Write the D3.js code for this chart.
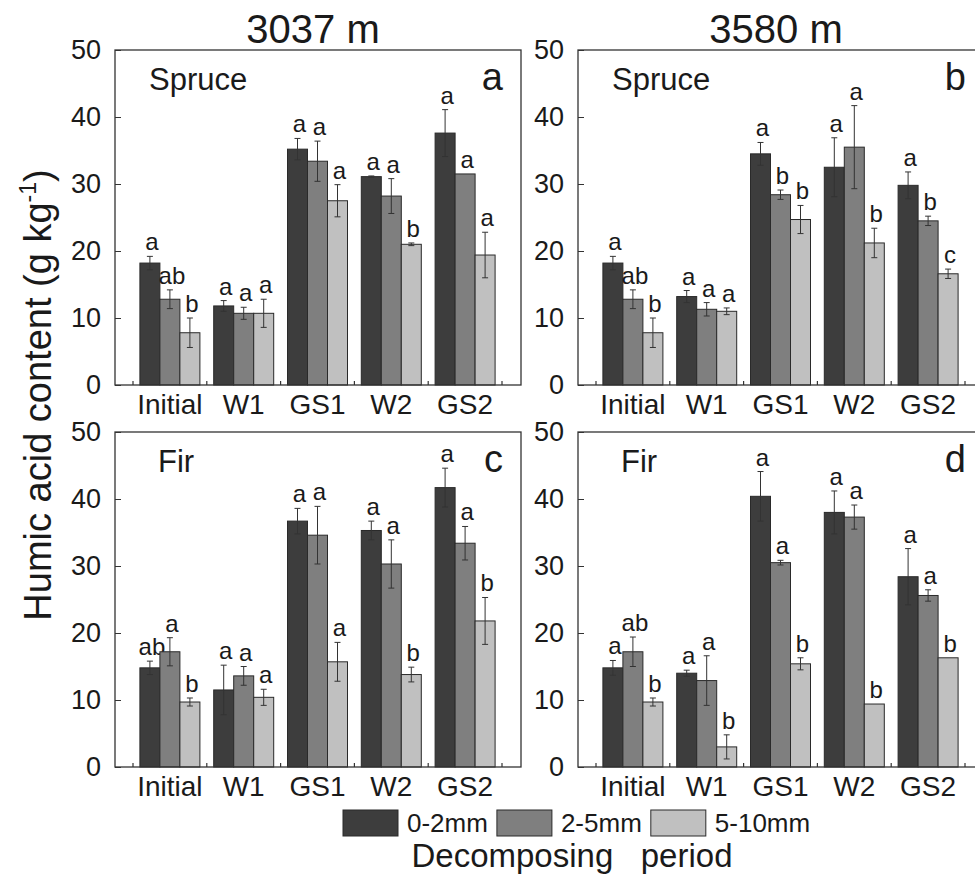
<!DOCTYPE html>
<html>
<head>
<meta charset="utf-8">
<script src="https://cdn.jsdelivr.net/npm/d3@7"></script>
<style>
  html, body { margin: 0; padding: 0; background: #fff; }
  svg { display: block; font-family: "Liberation Sans", Arial, Helvetica, sans-serif; }
</style>
</head>
<body>
<svg id="chart" width="975" height="879"></svg>
<script>
// ---------------- data ----------------
const categories = ["Initial", "W1", "GS1", "W2", "GS2"];
const seriesNames = ["0-2mm", "2-5mm", "5-10mm"];
const seriesColors = ["#3d3d3d", "#7f7f7f", "#c0c0c0"];
const yTicks = [0, 10, 20, 30, 40, 50];
const columnTitles = ["3037 m", "3580 m"];
const panelTags = ["a", "b", "c", "d"];
const panelSpecies = ["Spruce", "Spruce", "Fir", "Fir"];

// panel a : 3037 m, Spruce
const a_v02 = [18.2, 11.8, 35.2, 31.1, 37.6];
const a_e02 = [1.0, 0.8, 1.6, 0.1, 3.5];
const a_v25 = [12.8, 10.7, 33.4, 28.2, 31.5];
const a_e25 = [1.4, 0.9, 3.0, 2.6, 0.0];
const a_v510 = [7.8, 10.7, 27.5, 21.0, 19.4];
const a_e510 = [2.2, 2.1, 2.4, 0.2, 3.4];
const a_l02 = ["a", "a", "a", "a", "a"];
const a_l25 = ["ab", "a", "a", "a", "a"];
const a_l510 = ["b", "a", "a", "b", "a"];

// panel b : 3580 m, Spruce
const b_v02 = [18.2, 13.2, 34.5, 32.5, 29.8];
const b_e02 = [1.0, 0.9, 1.7, 4.4, 2.0];
const b_v25 = [12.8, 11.3, 28.4, 35.5, 24.5];
const b_e25 = [1.4, 1.0, 0.7, 6.2, 0.7];
const b_v510 = [7.8, 11.0, 24.7, 21.2, 16.6];
const b_e510 = [2.2, 0.5, 2.1, 2.2, 0.7];
const b_l02 = ["a", "a", "a", "a", "a"];
const b_l25 = ["ab", "a", "b", "a", "b"];
const b_l510 = ["b", "a", "b", "b", "c"];

// panel c : 3037 m, Fir
const c_v02 = [14.8, 11.5, 36.7, 35.3, 41.7];
const c_e02 = [1.0, 3.7, 1.9, 1.4, 2.9];
const c_v25 = [17.2, 13.6, 34.6, 30.3, 33.4];
const c_e25 = [2.1, 1.4, 4.3, 3.6, 2.5];
const c_v510 = [9.7, 10.4, 15.7, 13.8, 21.8];
const c_e510 = [0.6, 1.2, 2.9, 1.1, 3.5];
const c_l02 = ["ab", "a", "a", "a", "a"];
const c_l25 = ["a", "a", "a", "a", "a"];
const c_l510 = ["b", "a", "a", "b", "b"];

// panel d : 3580 m, Fir
const d_v02 = [14.8, 14.0, 40.4, 38.0, 28.4];
const d_e02 = [1.1, 0.45, 3.7, 3.2, 4.2];
const d_v25 = [17.2, 12.9, 30.5, 37.3, 25.6];
const d_e25 = [2.2, 3.7, 0.35, 1.8, 0.85];
const d_v510 = [9.7, 3.0, 15.4, 9.4, 16.3];
const d_e510 = [0.6, 1.8, 0.9, 0.0, 0.0];
const d_l02 = ["a", "a", "a", "a", "a"];
const d_l25 = ["ab", "a", "a", "a", "a"];
const d_l510 = ["b", "b", "b", "b", "b"];

const panelData = [
  { vals: [a_v02, a_v25, a_v510], errs: [a_e02, a_e25, a_e510], lets: [a_l02, a_l25, a_l510] },
  { vals: [b_v02, b_v25, b_v510], errs: [b_e02, b_e25, b_e510], lets: [b_l02, b_l25, b_l510] },
  { vals: [c_v02, c_v25, c_v510], errs: [c_e02, c_e25, c_e510], lets: [c_l02, c_l25, c_l510] },
  { vals: [d_v02, d_v25, d_v510], errs: [d_e02, d_e25, d_e510], lets: [d_l02, d_l25, d_l510] }
];

// ---------------- layout ----------------
const svg = d3.select("#chart");
const colLeft = [115, 578];
const rowTop = [50, 432];
const panelW = 406, panelH = 335;
const bandPadL = 18, bandPadR = 19;
const groupW = 60;
const ink = "#1a1a1a";

panelData.forEach((pd, pi) => {
  const col = pi % 2, row = Math.floor(pi / 2);
  const left = colLeft[col], top = rowTop[row];
  const right = left + panelW, bottom = top + panelH;
  const g = svg.append("g");

  const x = d3.scaleBand().domain(categories).range([left + bandPadL, right - bandPadR]).padding(0);
  const xs = d3.scaleBand().domain(seriesNames).range([0, groupW]).padding(0);
  const y = d3.scaleLinear().domain([0, 50]).range([bottom, top]);
  const gx0 = c => x(c) + (x.bandwidth() - groupW) / 2;

  // bars
  seriesNames.forEach((s, si) => {
    const recs = categories.map((c, ci) => ({ c, v: pd.vals[si][ci], e: pd.errs[si][ci], l: pd.lets[si][ci] }));
    g.selectAll(null).data(recs).enter().append("rect")
      .attr("x", d => gx0(d.c) + xs(s))
      .attr("y", d => y(d.v))
      .attr("width", xs.bandwidth())
      .attr("height", d => y(0) - y(d.v))
      .attr("fill", seriesColors[si])
      .attr("stroke", "#2a2a2a")
      .attr("stroke-width", 1);
    // error bars
    const eb = g.selectAll(null).data(recs.filter(d => d.e > 0)).enter().append("g")
      .attr("stroke", "#333").attr("stroke-width", 1);
    const cx = d => gx0(d.c) + xs(s) + xs.bandwidth() / 2;
    eb.append("line").attr("x1", cx).attr("x2", cx).attr("y1", d => y(d.v + d.e)).attr("y2", d => y(d.v - d.e));
    eb.append("line").attr("x1", d => cx(d) - 3).attr("x2", d => cx(d) + 3).attr("y1", d => y(d.v + d.e)).attr("y2", d => y(d.v + d.e));
    eb.append("line").attr("x1", d => cx(d) - 3).attr("x2", d => cx(d) + 3).attr("y1", d => y(d.v - d.e)).attr("y2", d => y(d.v - d.e));
    // significance letters
    g.selectAll(null).data(recs).enter().append("text")
      .attr("x", d => cx(d) + 2)
      .attr("y", d => y(d.v + d.e) - 6)
      .attr("text-anchor", "middle")
      .attr("font-size", 24)
      .attr("fill", ink)
      .text(d => d.l);
  });

  // frame
  g.append("rect").attr("x", left).attr("y", top).attr("width", panelW).attr("height", panelH)
    .attr("fill", "none").attr("stroke", "#333").attr("stroke-width", 1.3);

  // y axis ticks (inward) + labels
  const yAxis = d3.axisLeft(y).tickValues(yTicks).tickSize(-6).tickPadding(14).tickFormat(d3.format("d"));
  const ya = g.append("g").attr("transform", `translate(${left},0)`).call(yAxis);
  ya.select(".domain").remove();
  ya.selectAll("line").attr("stroke", "#333");
  ya.selectAll("text").attr("font-size", 27).attr("fill", ink).attr("font-family", null);

  // x axis: minor ticks at group boundaries, labels at group centers
  const bounds = categories.map(c => x(c)).concat([x(categories[categories.length - 1]) + x.step()]);
  g.selectAll(null).data(bounds).enter().append("line")
    .attr("x1", d => d).attr("x2", d => d).attr("y1", bottom).attr("y2", bottom - 4)
    .attr("stroke", "#333").attr("stroke-width", 1.2);
  g.selectAll(null).data(categories).enter().append("text")
    .attr("x", c => x(c) + x.bandwidth() / 2)
    .attr("y", bottom + 29)
    .attr("text-anchor", "middle")
    .attr("font-size", 28)
    .attr("fill", ink)
    .text(c => c);

  // species label and panel tag
  g.append("text").attr("x", left + (row === 0 ? 34 : 43)).attr("y", top + 40)
    .attr("font-size", 31).attr("fill", ink).text(panelSpecies[pi]);
  g.append("text").attr("x", left + 388).attr("y", top + 40).attr("text-anchor", "end")
    .attr("font-size", 38).attr("fill", ink).text(panelTags[pi]);
});

// column titles
columnTitles.forEach((t, i) => {
  svg.append("text").attr("x", colLeft[i] + panelW / 2 - 5).attr("y", 43)
    .attr("text-anchor", "middle").attr("font-size", 40).attr("fill", ink).text(t);
});

// y-axis title
const yt = svg.append("text")
  .attr("transform", `translate(51,395) rotate(-90)`)
  .attr("text-anchor", "middle").attr("font-size", 38).attr("fill", ink);
yt.append("tspan").text("Humic acid content (g kg");
yt.append("tspan").attr("font-size", 23).attr("dy", -15).text("-1");
yt.append("tspan").attr("dy", 15).text(")");

// legend
let lx = 343;
seriesNames.forEach((s, i) => {
  svg.append("rect").attr("x", lx).attr("y", 810).attr("width", 55).attr("height", 26)
    .attr("fill", seriesColors[i]).attr("stroke", "#2a2a2a").attr("stroke-width", 1);
  const t = svg.append("text").attr("x", lx + 64).attr("y", 832).attr("font-size", 26).attr("fill", ink).text(s);
  lx += 64 + t.node().getComputedTextLength() + 9;
});

// x-axis title
svg.append("text").attr("x", 572).attr("y", 867).attr("text-anchor", "middle")
  .attr("font-size", 33).attr("fill", ink).style("white-space", "pre")
  .text("Decomposing   period");
</script>
</body>
</html>
